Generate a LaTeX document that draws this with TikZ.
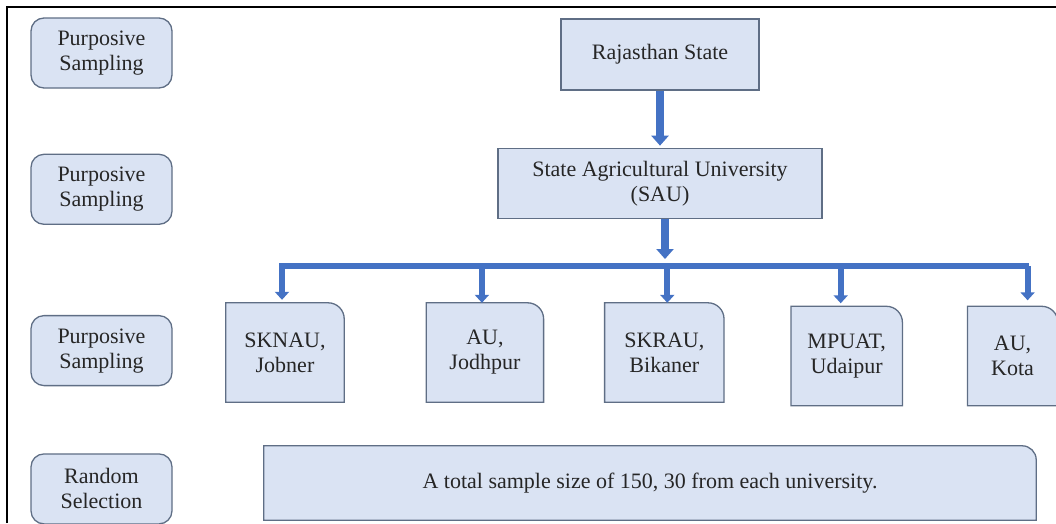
\documentclass[tikz,border=0pt]{standalone}
\usepackage{fontspec}
\setmainfont{Liberation Serif}
\newfontfamily\timesfont{Liberation Serif}
\usetikzlibrary{arrows.meta}
\usetikzlibrary{positioning}
\usetikzlibrary{backgrounds}
\definecolor{boxfill}{HTML}{DAE3F3}
\definecolor{boxline}{HTML}{5F6E85}
\definecolor{arrowblue}{HTML}{4472C4}
\tikzset{
  every node/.style={font=\timesfont\fontsize{22}{25}\selectfont, text=black!85, align=center, inner sep=0pt},
  plain box/.style={draw=boxline, fill=boxfill, line width=1.3pt, minimum width=#1},
  side box/.style={draw=boxline, fill=boxfill, line width=1.3pt, rounded corners=13pt, minimum width=141pt, minimum height=70pt},
  uni box/.style={minimum width=#1, minimum height=99pt},
  big arrow/.style={arrowblue, line width=8pt, -{Triangle[width=17pt,length=10pt]}},
  small arrow/.style={arrowblue, line width=6pt, -{Triangle[width=14pt,length=8pt]}},
}
\newcommand{\cornerbox}[2]{%
  \filldraw[draw=boxline, fill=boxfill, line width=1.3pt] (#1.south west) -- (#1.north west) -- ([xshift=-#2]#1.north east) arc[start angle=90, end angle=0, radius=#2] -- (#1.south east) -- cycle;}

\begin{document}
\begin{tikzpicture}[x=1pt, y=-1pt]
  \useasboundingbox (0,0) rectangle (1056,523);
  \draw [line width=2pt] (7,523) -- (7,7) -- (1056,7);

  \node [side box] (p1) at (101.5,53) {Purposive\\Sampling};
  \node [side box, below=65pt of p1] (p2) {Purposive\\Sampling};
  \node [side box, below=90pt of p2] (p3) {Purposive\\Sampling};
  \node [side box, below=67pt of p3] (r1) {Random\\Selection};

  \node [plain box=198pt, minimum height=71pt] (rs) at (660,54.5) {Rajasthan State};
  \node [plain box=324pt, minimum height=70pt, below=57pt of rs] (sau) {State Agricultural University\\(SAU)};

  \node [uni box=118pt] (u1) at (285,352.5) {SKNAU,\\Jobner};
  \node [uni box=117pt, right=82pt of u1] (u2) {AU,\\Jodhpur};
  \node [uni box=119pt, right=61pt of u2] (u3) {SKRAU,\\Bikaner};
  \node [uni box=111pt, right=67pt of u3, yshift=-3.5pt] (u4) {MPUAT,\\Udaipur};
  \node [uni box=90pt, right=65pt of u4] (u5) {AU,\\Kota};

  \node [uni box=772pt, minimum height=74pt] (tot) at (650,483) {A total sample size of 150, 30 from each university.};

  \begin{scope}[on background layer]
    \foreach \u in {u1,u2,u3,u4,u5} {\cornerbox{\u}{16pt}}
    \cornerbox{tot}{14pt}
  \end{scope}

  \draw [big arrow, shorten >=2pt] (rs) -- (sau);

  \coordinate (bl) at (279,266);
  \coordinate (br) at (1029,266);
  \draw [arrowblue, line width=6pt] (bl) -- (br);
  \coordinate (s) at ([xshift=5pt]sau.south);
  \draw [big arrow, shorten >=7pt] (s) -- (s |- bl);

  \foreach \u/\dx/\gap in {u1/-3/3, u2/-3/0, u3/3/0, u4/-6/3, u5/15/6} {
    \coordinate (t) at ([xshift=\dx pt]\u.north);
    \draw [small arrow, shorten >=\gap pt] (t |- bl) -- (t);
  }
\end{tikzpicture}
\end{document}
